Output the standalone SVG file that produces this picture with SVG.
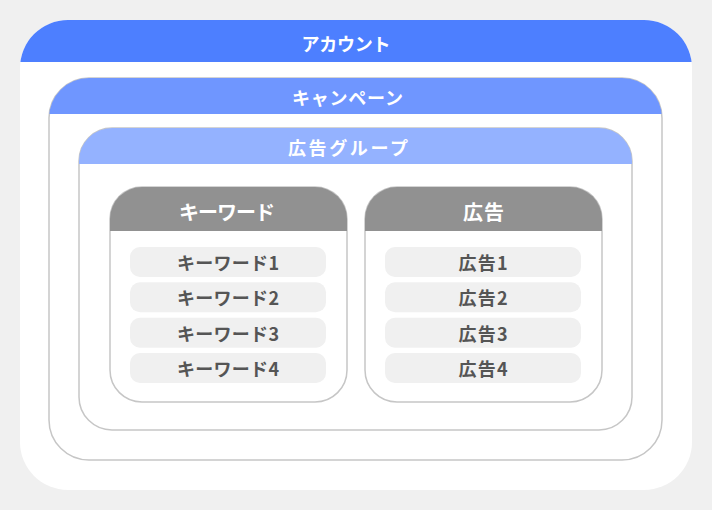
<svg xmlns="http://www.w3.org/2000/svg" width="712" height="510" viewBox="0 0 712 510">
<defs>
<style>
.body{fill:#fff;stroke:#c6c6c6;stroke-width:1.5}
.hd{font-family:"Noto Sans CJK JP","Noto Sans",sans-serif;font-weight:bold;font-size:18px;fill:#fff;text-anchor:middle;dominant-baseline:central}
.gh{font-family:"Noto Sans CJK JP","Noto Sans",sans-serif;font-weight:bold;font-size:20px;fill:#fff;text-anchor:middle;dominant-baseline:central}
.it{fill:#f0f0f0}
.itt{font-family:"Noto Sans CJK JP","Noto Sans",sans-serif;font-weight:bold;font-size:18px;fill:#555;text-anchor:middle;dominant-baseline:central}
</style>
<clipPath id="cA"><rect x="20" y="20" width="672" height="470" rx="48"/></clipPath>
<clipPath id="cC"><rect x="49" y="78" width="613" height="382" rx="40"/></clipPath>
<clipPath id="cG"><rect x="79" y="128" width="553" height="302" rx="33"/></clipPath>
<clipPath id="cK"><rect x="110" y="187" width="237" height="215" rx="32"/></clipPath>
<clipPath id="cD"><rect x="365" y="187" width="237" height="215" rx="32"/></clipPath>
</defs>
<rect width="712" height="510" fill="#f0f0f0"/>
<g id="account">
<rect x="20" y="20" width="672" height="470" rx="48" fill="#fff"/>
<rect x="20" y="20" width="672" height="42" fill="#4d7fff" clip-path="url(#cA)"/>
<text class="hd" x="346" y="42.5" textLength="89" lengthAdjust="spacing">アカウント</text>
</g>
<g id="campaign">
<rect class="body" x="49" y="78" width="613" height="382" rx="40"/>
<rect x="49" y="78" width="613" height="36" fill="#6f96ff" clip-path="url(#cC)"/>
<text class="hd" x="347.5" y="96.5" textLength="111" lengthAdjust="spacing">キャンペーン</text>
</g>
<g id="adgroup">
<rect class="body" x="79" y="128" width="553" height="302" rx="33"/>
<rect x="79" y="128" width="553" height="36" fill="#94b2ff" clip-path="url(#cG)"/>
<text class="hd" x="348" y="146.5" font-size="19" textLength="120" lengthAdjust="spacing">広告グループ</text>
</g>
<g id="keywords">
<rect class="body" x="110" y="187" width="237" height="215" rx="32"/>
<rect x="110" y="187" width="237" height="44" fill="#919191" clip-path="url(#cK)"/>
<text class="gh" x="227" y="211" textLength="96" lengthAdjust="spacing">キーワード</text>
</g>
<g id="ads">
<rect class="body" x="365" y="187" width="237" height="215" rx="32"/>
<rect x="365" y="187" width="237" height="44" fill="#919191" clip-path="url(#cD)"/>
<text class="gh" x="483.5" y="211" font-size="21" textLength="41" lengthAdjust="spacing">広告</text>
</g>
<g id="kw1"><rect class="it" x="130" y="247" width="196" height="30" rx="10"/><text class="itt" x="228" y="262" textLength="102" lengthAdjust="spacing">キーワード1</text></g>
<g id="kw2"><rect class="it" x="130" y="282.3" width="196" height="30" rx="10"/><text class="itt" x="228" y="297.3" textLength="102" lengthAdjust="spacing">キーワード2</text></g>
<g id="kw3"><rect class="it" x="130" y="317.7" width="196" height="30" rx="10"/><text class="itt" x="228" y="332.7" textLength="102" lengthAdjust="spacing">キーワード3</text></g>
<g id="kw4"><rect class="it" x="130" y="353" width="196" height="30" rx="10"/><text class="itt" x="228" y="368" textLength="102" lengthAdjust="spacing">キーワード4</text></g>
<g id="ad1"><rect class="it" x="385" y="247" width="196" height="30" rx="10"/><text class="itt" x="483" y="262" textLength="49" lengthAdjust="spacing">広告1</text></g>
<g id="ad2"><rect class="it" x="385" y="282.3" width="196" height="30" rx="10"/><text class="itt" x="483" y="297.3" textLength="49" lengthAdjust="spacing">広告2</text></g>
<g id="ad3"><rect class="it" x="385" y="317.7" width="196" height="30" rx="10"/><text class="itt" x="483" y="332.7" textLength="49" lengthAdjust="spacing">広告3</text></g>
<g id="ad4"><rect class="it" x="385" y="353" width="196" height="30" rx="10"/><text class="itt" x="483" y="368" textLength="49" lengthAdjust="spacing">広告4</text></g>
<g id="connectors"/>
</svg>
